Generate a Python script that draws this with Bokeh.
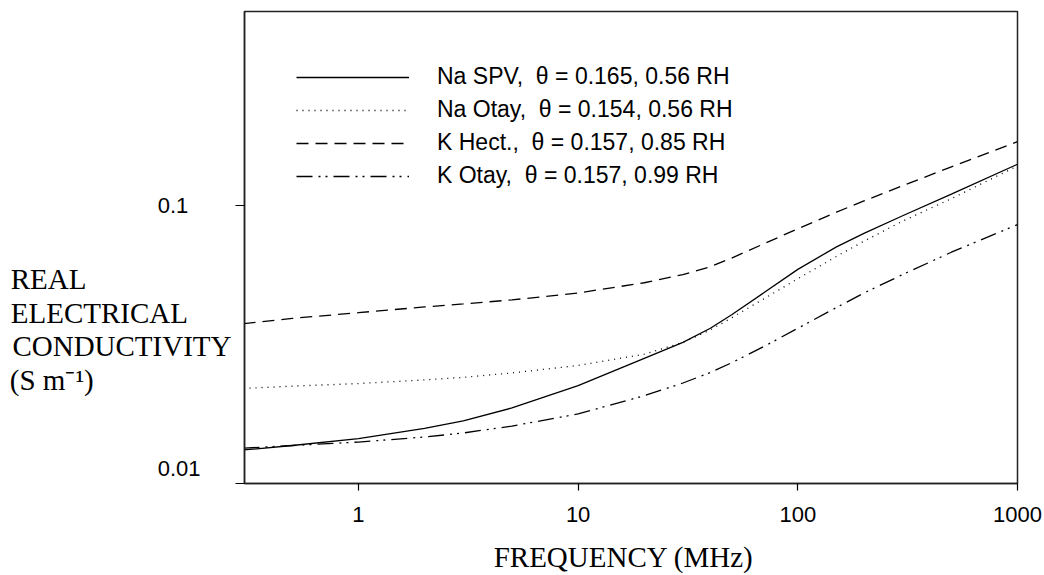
from bokeh.plotting import figure
from bokeh.models import FixedTicker, Range1d, Legend, LegendItem, LinearAxis, LinearScale
from bokeh.embed import file_html
from bokeh.resources import INLINE

# ---- data ----
freq = [0.3, 0.5, 1, 2, 3, 5, 10, 20, 30, 40, 50, 70, 100, 150, 200, 300, 500, 1000]
na_spv = [0.0132, 0.0137, 0.0145, 0.0158, 0.0168, 0.0187, 0.0225, 0.0282, 0.0322, 0.0362, 0.0405,
          0.0486, 0.0590, 0.0711, 0.0795, 0.0920, 0.1100, 0.1410]
na_otay = [0.0220, 0.0224, 0.0229, 0.0236, 0.0241, 0.0250, 0.0266, 0.0292, 0.0322, 0.0357, 0.0395,
           0.0462, 0.0546, 0.0657, 0.0745, 0.0880, 0.1060, 0.1390]
k_hect = [0.0376, 0.0393, 0.0412, 0.0432, 0.0443, 0.0458, 0.0485, 0.0528, 0.0565, 0.0603, 0.0648,
          0.0729, 0.0826, 0.0948, 0.1040, 0.1180, 0.1380, 0.1700]
k_otay = [0.0134, 0.0137, 0.0141, 0.0147, 0.0152, 0.0161, 0.0178, 0.0207, 0.0230, 0.0251, 0.0272,
          0.0311, 0.0362, 0.0430, 0.0485, 0.0565, 0.0680, 0.0855]

series_names = [
    "Na SPV,\u00a0 \u03b8 = 0.165, 0.56 RH",
    "Na Otay,\u00a0 \u03b8 = 0.154, 0.56 RH",
    "K Hect.,\u00a0 \u03b8 = 0.157, 0.85 RH",
    "K Otay,\u00a0 \u03b8 = 0.157, 0.99 RH",
]
x_ticks = [1, 10, 100, 1000]
x_tick_labels = ["1", "10", "100", "1000"]
y_ticks = [0.01, 0.1]
y_tick_labels = ["0.01", "0.1"]
y_title_lines = ["REAL", "ELECTRICAL", "CONDUCTIVITY", "(S m\u207b\u00b9)"]
x_title = "FREQUENCY (MHz)"

series = [na_spv, na_otay, k_hect, k_otay]
dashes = ["solid", "1 5", "12 7", "16 6 2 5 2 6"]

SANS = "Liberation Sans"
SERIF = "Liberation Serif"
NBSP = "\u00a0"

p = figure(width=1044, height=575, x_axis_type="log", y_axis_type="log",
           x_range=Range1d(0.303, 1000), y_range=Range1d(0.01, 0.5),
           output_backend="svg", toolbar_location=None,
           min_border_left=244, min_border_right=27, min_border_top=11, min_border_bottom=92)

p.grid.visible = False
p.outline_line_color = "#222222"
p.outline_line_width = 1.5
p.background_fill_color = "white"
p.border_fill_color = "white"

# ---- x axis ----
xa = p.xaxis[0]
xa.ticker = FixedTicker(ticks=x_ticks)
xa.major_label_overrides = {t: s for t, s in zip(x_ticks, x_tick_labels)}
xa.major_tick_in = 0
xa.major_tick_out = 7
xa.minor_tick_in = 0
xa.minor_tick_out = 0
xa.axis_line_color = "#222222"
xa.axis_line_width = 1.5
xa.major_tick_line_color = "black"
xa.major_tick_line_width = 1.2
xa.major_label_text_font = SANS
xa.major_label_text_font_size = "22px"
xa.major_label_text_color = "black"
xa.major_label_standoff = 16
xa.axis_label = x_title + NBSP * 2   # trailing pad nudges the centred title slightly left
xa.axis_label_text_font = SERIF
xa.axis_label_text_font_size = "29px"
xa.axis_label_text_font_style = "normal"
xa.axis_label_text_color = "black"
xa.axis_label_standoff = 16

# ---- main y axis (labels made equally wide so they start at the same x) ----
ya = p.yaxis[0]
ya.ticker = FixedTicker(ticks=y_ticks)
w = max(len(s) for s in y_tick_labels)
ya.major_label_overrides = {
    t: (s + NBSP * 2 * (w - len(s))) + ("\n" if t == min(y_ticks) else "")
    for t, s in zip(y_ticks, y_tick_labels)
}
ya.major_tick_in = 0
ya.major_tick_out = 9
ya.minor_tick_in = 0
ya.minor_tick_out = 0
ya.axis_line_color = "#222222"
ya.axis_line_width = 1.5
ya.major_tick_line_color = "black"
ya.major_tick_line_width = 1.2
ya.major_label_text_font = SANS
ya.major_label_text_font_size = "22px"
ya.major_label_text_color = "black"
ya.major_label_standoff = 35

# ---- y title: one text row per line, on a second (line-less) left axis ----
# padded with no-break spaces so the right-aligned axis labels read left-aligned
char_w = {"R": .667, "E": .611, "A": .722, "L": .611, "C": .667, "T": .611, "I": .333,
          "O": .722, "N": .722, "D": .722, "U": .722, "V": .722, "Y": .722,
          "(": .333, ")": .333, "S": .556, " ": .25, "m": .778, "\u207b": .3, "\u00b9": .3}
widths = [sum(char_w.get(c, .5) for c in s) for s in y_title_lines]
wmax = max(widths)
padded = [s + NBSP * int(round((wmax - wd) / 0.25)) for s, wd in zip(y_title_lines, widths)]
rows = list(range(len(y_title_lines)))
p.extra_y_ranges = {"title_rows": Range1d(start=6.108, end=-8.024)}
p.extra_y_scales = {"title_rows": LinearScale()}
ta = LinearAxis(y_range_name="title_rows", ticker=FixedTicker(ticks=rows),
                major_label_overrides={r: s for r, s in zip(rows, padded)},
                axis_line_color=None, major_tick_in=0, major_tick_out=0,
                minor_tick_in=0, minor_tick_out=0, major_label_standoff=-77,
                major_label_text_font=SERIF, major_label_text_font_size="29px",
                major_label_text_color="black")
p.add_layout(ta, "left")

# ---- curves ----
renderers = []
for ys, d in zip(series, dashes):
    r = p.line(freq, ys, line_color="black", line_width=1.3, line_dash=d)
    renderers.append(r)

legend = Legend(items=[LegendItem(label=n, renderers=[r]) for n, r in zip(series_names, renderers)],
                location="top_left")
legend.margin = 0
legend.padding = 52
legend.spacing = 6
legend.glyph_width = 113
legend.glyph_height = 24
legend.label_height = 24
legend.label_standoff = 28
legend.label_text_font = SANS
legend.label_text_font_size = "23px"
legend.label_text_color = "black"
legend.background_fill_alpha = 0
legend.border_line_alpha = 0
p.add_layout(legend)

open("out.html", "w").write(file_html(p, INLINE))
